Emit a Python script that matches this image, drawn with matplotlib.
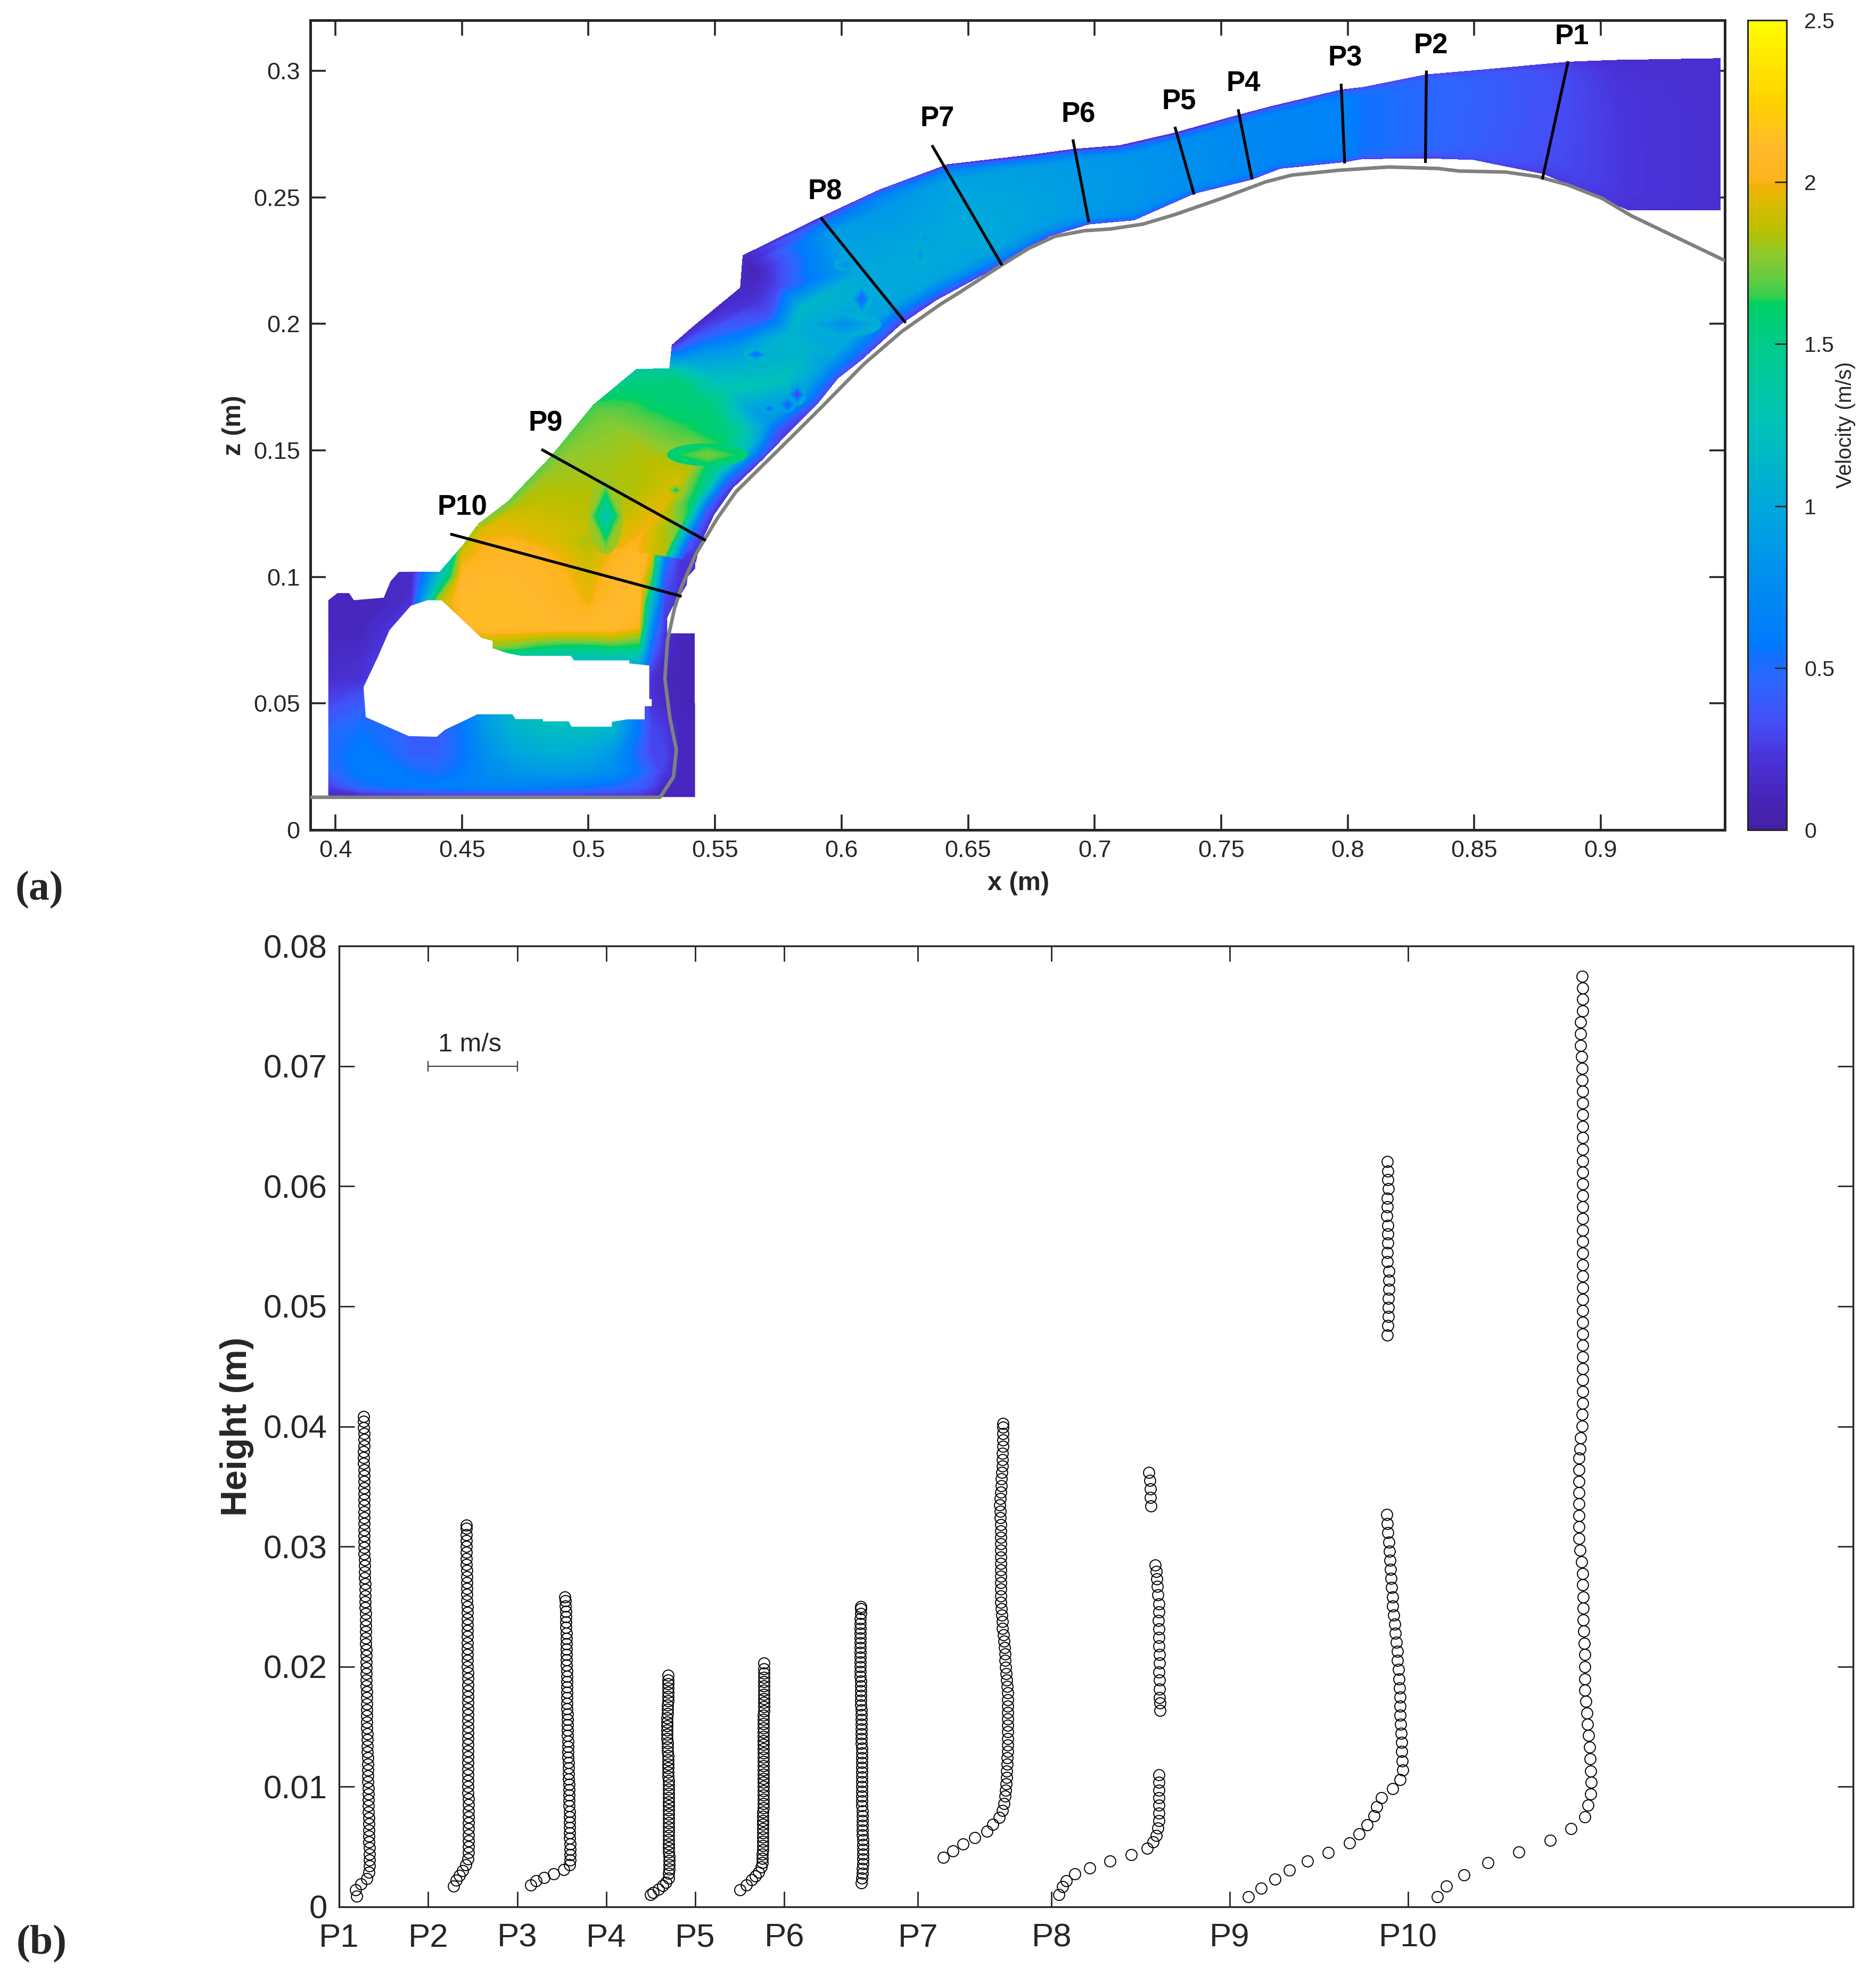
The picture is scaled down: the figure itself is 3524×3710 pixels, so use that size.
import numpy as np
import matplotlib
matplotlib.use("Agg")
import matplotlib.pyplot as plt
from matplotlib.colors import LinearSegmentedColormap, Normalize
from matplotlib.cm import ScalarMappable
from matplotlib.patches import Polygon, Ellipse
from matplotlib.tri import Triangulation

plt.rcParams["font.family"] = ["Liberation Sans", "DejaVu Sans"]

FIG_W, FIG_H = 3524, 3710
INK = "#262626"

# ---- panel (a) data ----
# velocity colour bar
cbar_values = [0, 0.12, 0.22, 0.34, 0.45, 0.55, 0.56, 0.75, 1.0, 1.25, 1.5, 1.63,
               1.64, 1.7, 1.78, 1.85, 1.93, 1.99, 2.01, 2.1, 2.25, 2.38, 2.5]
cbar_colors = ["#4320A4", "#4727BE", "#4A33DA", "#4450F8", "#2E64FF", "#0E72FF", "#0078FF",
               "#008CF0", "#00A8DC", "#00C2B8", "#00CB8A", "#00D062",
               "#2CCE50", "#62CC42", "#90C92C", "#B8C000", "#D8BC00", "#F0B208",
               "#FFB41C", "#FFB82C", "#FFD200", "#FFE800", "#FFFF00"]

# bed line
bed_x = [0.39, 0.5283, 0.5336, 0.5347, 0.5321, 0.5302, 0.5312, 0.534, 0.5368, 0.5424, 0.5508,
         0.5583, 0.5789, 0.592, 0.6088, 0.6238, 0.639, 0.6461, 0.6634, 0.6739, 0.6843, 0.6958,
         0.7062, 0.719, 0.7317, 0.7502, 0.7675, 0.7779, 0.7964, 0.8161, 0.8358, 0.8439, 0.8624,
         0.8751, 0.8867, 0.9005, 0.9121, 0.9503]
bed_z = [0.0129, 0.0129, 0.021, 0.0318, 0.0446, 0.0597, 0.0747, 0.0876, 0.0961, 0.109, 0.123,
         0.1337, 0.154, 0.167, 0.1841, 0.197, 0.2077, 0.2121, 0.2233, 0.2298, 0.2346, 0.2368,
         0.2375, 0.2394, 0.2432, 0.2496, 0.2561, 0.2588, 0.2607, 0.262, 0.2614, 0.2604, 0.26,
         0.2582, 0.255, 0.2496, 0.2427, 0.2244]

# jet cross sections, from the crest down to the toe
jet_bed_x = [0.9472, 0.9109, 0.8774, 0.8496, 0.8307, 0.8057, 0.7988, 0.7733, 0.7622, 0.7393, 0.7155,
             0.6977, 0.682, 0.6634, 0.6375, 0.6235, 0.6075, 0.5985, 0.5905, 0.5775, 0.5688, 0.557, 0.5495,
             0.5455, 0.5435, 0.5424]
jet_bed_z = [0.245, 0.245, 0.2593, 0.2649, 0.2655, 0.2652, 0.264, 0.2614, 0.2571, 0.2515, 0.241,
             0.2394, 0.2346, 0.2235, 0.2095, 0.2, 0.1855, 0.1785, 0.1685, 0.1555, 0.1465, 0.1352, 0.1245,
             0.116, 0.111, 0.106]
jet_top_x = [0.9472, 0.905, 0.887, 0.8554, 0.8311, 0.806, 0.7974, 0.77, 0.7567, 0.7317, 0.71,
             0.6914, 0.675, 0.642, 0.615, 0.5917, 0.561, 0.56, 0.5415, 0.533, 0.532, 0.5189, 0.502,
             0.4852, 0.4682, 0.456]
jet_top_z = [0.3049, 0.3042, 0.3035, 0.3006, 0.2985, 0.2935, 0.2925, 0.286, 0.2825, 0.2755, 0.2705,
             0.269, 0.2668, 0.263, 0.253, 0.2421, 0.227, 0.2142, 0.199, 0.1916, 0.1824, 0.182, 0.168,
             0.1476, 0.1298, 0.1205]
# share of the depth at which each speed below was read
jet_depth = [0, 0.06, 0.15, 0.3, 0.5, 0.7, 0.85, 0.94, 1]
jet_speed = [
    [0.18, 0.18, 0.18, 0.18, 0.18, 0.18, 0.18, 0.18, 0.18],
    [0.2, 0.22, 0.23, 0.23, 0.23, 0.23, 0.22, 0.2, 0.18],
    [0.25, 0.3, 0.33, 0.33, 0.33, 0.33, 0.32, 0.3, 0.25],
    [0.3, 0.38, 0.42, 0.42, 0.42, 0.42, 0.42, 0.4, 0.3],
    [0.25, 0.42, 0.47, 0.47, 0.47, 0.47, 0.47, 0.45, 0.3],
    [0.3, 0.5, 0.55, 0.55, 0.55, 0.55, 0.55, 0.5, 0.3],
    [0.28, 0.6, 0.66, 0.66, 0.66, 0.66, 0.66, 0.55, 0.25],
    [0.3, 0.6, 0.7, 0.7, 0.7, 0.7, 0.7, 0.5, 0.2],
    [0.3, 0.62, 0.72, 0.72, 0.72, 0.72, 0.72, 0.5, 0.2],
    [0.35, 0.66, 0.76, 0.78, 0.78, 0.78, 0.76, 0.5, 0.15],
    [0.35, 0.7, 0.82, 0.84, 0.84, 0.84, 0.82, 0.55, 0.15],
    [0.3, 0.72, 0.85, 0.88, 0.88, 0.88, 0.85, 0.6, 0.15],
    [0.3, 0.72, 0.9, 0.95, 0.95, 0.92, 0.9, 0.6, 0.15],
    [0.3, 0.7, 0.95, 1.02, 1.02, 0.98, 0.95, 0.7, 0.2],
    [0.25, 0.6, 0.98, 1.02, 0.98, 0.9, 0.85, 0.7, 0.3],
    [0.25, 0.5, 0.95, 1.02, 1.0, 0.95, 0.9, 0.6, 0.2],
    [0.3, 0.6, 1.0, 0.95, 1.15, 0.3, 0.12, 0.12, 0.15],
    [0.3, 0.6, 0.95, 1.1, 1.1, 0.35, 0.2, 0.15, 0.15],
    [0.3, 0.6, 1.0, 1.25, 1.1, 0.85, 0.5, 0.3, 0.15],
    [0.25, 0.35, 0.85, 0.95, 1.3, 1.15, 0.9, 0.5, 0.2],
    [0.25, 0.6, 1.2, 1.5, 1.55, 1.55, 1.55, 1.45, 1.3],
    [0.2, 0.5, 1.4, 1.75, 1.65, 1.58, 1.55, 1.5, 1.4],
    [0.2, 0.45, 1.55, 1.92, 1.85, 1.8, 1.75, 1.7, 1.65],
    [0.2, 0.45, 1.7, 1.97, 1.83, 1.82, 1.8, 1.78, 1.7],
    [0.2, 0.4, 1.8, 2.0, 1.85, 1.88, 1.88, 1.85, 1.7],
    [0.2, 0.25, 1.85, 2.05, 1.82, 1.95, 1.97, 1.96, 1.75],
]

# toe and pool, on a plain grid
pool_x = [0.3972, 0.41, 0.42, 0.43, 0.44, 0.45, 0.46, 0.47, 0.48, 0.49, 0.5, 0.51, 0.52, 0.525, 0.53, 0.536, 0.542]
pool_z = [0.013, 0.017, 0.023, 0.03, 0.04, 0.05, 0.06, 0.067, 0.072, 0.08, 0.09, 0.1, 0.108, 0.12]
pool_speed = [
    [0.12, 0.12, 0.15, 0.15, 0.2, 0.2, 0.2, 0.2, 0.2, 0.2, 0.2, 0.2, 0.2, 0.15, 0.12, 0.12, 0.12],
    [0.25, 0.5, 0.55, 0.6, 0.62, 0.65, 0.68, 0.68, 0.65, 0.6, 0.55, 0.5, 0.4, 0.3, 0.15, 0.12, 0.12],
    [0.45, 0.6, 0.62, 0.55, 0.5, 0.58, 0.75, 0.82, 0.88, 0.88, 0.85, 0.75, 0.55, 0.4, 0.25, 0.12, 0.12],
    [0.5, 0.6, 0.55, 0.42, 0.42, 0.55, 0.8, 0.95, 1.03, 1.05, 1.0, 0.85, 0.45, 0.3, 0.3, 0.12, 0.12],
    [0.45, 0.55, 0.5, 0.4, 0.4, 0.55, 0.9, 1.1, 1.18, 1.2, 1.2, 1.1, 0.55, 0.3, 0.25, 0.12, 0.12],
    [0.3, 0.4, 0.5, 0.5, 0.5, 0.6, 0.9, 1.15, 1.25, 1.25, 1.25, 1.15, 0.5, 0.2, 0.15, 0.1, 0.1],
    [0.18, 0.2, 0.3, 0.4, 0.5, 0.6, 1.0, 1.3, 1.4, 1.4, 1.4, 1.3, 0.6, 0.2, 0.12, 0.1, 0.1],
    [0.15, 0.18, 0.3, 0.4, 0.5, 0.9, 1.3, 1.25, 1.25, 1.2, 1.2, 1.2, 1.1, 0.35, 0.15, 0.1, 0.1],
    [0.15, 0.15, 0.25, 0.35, 0.5, 1.5, 1.75, 1.7, 1.6, 1.55, 1.55, 1.6, 1.55, 0.5, 0.18, 0.1, 0.1],
    [0.12, 0.12, 0.2, 0.3, 1.4, 2.1, 2.12, 2.12, 2.12, 2.1, 2.12, 2.12, 2.0, 0.7, 0.25, 0.1, 0.1],
    [0.12, 0.12, 0.12, 0.2, 1.8, 2.12, 2.12, 2.12, 2.1, 2.05, 1.98, 2.1, 2.12, 1.15, 0.3, 0.2, 0.15],
    [0.15, 0.12, 0.15, 0.15, 1.1, 2.08, 2.1, 2.1, 2.08, 2.02, 1.93, 2.08, 2.12, 1.7, 0.4, 0.22, 0.2],
    [0.15, 0.15, 0.15, 0.15, 0.7, 1.95, 2.05, 2.08, 2.05, 1.98, 1.88, 2.02, 2.12, 1.95, 0.7, 0.22, 0.2],
    [0.15, 0.15, 0.15, 0.15, 0.5, 1.6, 1.95, 1.95, 1.9, 1.85, 1.75, 1.95, 2.05, 2.0, 1.2, 0.3, 0.2],
]
pool_edge_x = [0.3972, 0.5421, 0.5421, 0.5311, 0.5311, 0.5331, 0.5353, 0.5388, 0.5392, 0.5421, 0.5424, 0.456,
               0.4503, 0.4412, 0.4251, 0.4218, 0.4191, 0.4073, 0.4054, 0.4008, 0.3972]
pool_edge_z = [0.013, 0.013, 0.0777, 0.0777, 0.0839, 0.0879, 0.0911, 0.0968, 0.1, 0.1032, 0.106, 0.1205,
               0.1125, 0.102, 0.102, 0.0983, 0.0918, 0.0908, 0.0936, 0.0936, 0.0908]

# air cavity under the nappe
cavity_x = [0.4364, 0.442, 0.4577, 0.4621, 0.4621, 0.4682, 0.4734, 0.493, 0.4943, 0.5161, 0.5161, 0.524, 0.524,
            0.525, 0.525, 0.5222, 0.5222, 0.5153, 0.5092, 0.5092, 0.4933, 0.4922, 0.482, 0.482, 0.4712, 0.4699,
            0.4561, 0.4503, 0.4433, 0.44, 0.4289, 0.412, 0.4111, 0.4167, 0.4214, 0.4298]
cavity_z = [0.0908, 0.0907, 0.0759, 0.0747, 0.0718, 0.0698, 0.0688, 0.0688, 0.067, 0.067, 0.0658, 0.065, 0.0517,
            0.0517, 0.0489, 0.0489, 0.0437, 0.0437, 0.0427, 0.0408, 0.0408, 0.0429, 0.0429, 0.0438, 0.0438, 0.0457,
            0.0457, 0.0429, 0.0396, 0.0368, 0.0371, 0.0446, 0.0564, 0.0682, 0.079, 0.0886]

# odd spots in the jet: centre, size, speed at the middle, speed around it
spot_x = [0.5068, 0.5346, 0.608, 0.5662, 0.5824, 0.5786, 0.5716, 0.6007, 0.6312, 0.6329, 0.6017, 0.547]
spot_z = [0.124, 0.1343, 0.2097, 0.1879, 0.1721, 0.1679, 0.1666, 0.1997, 0.2274, 0.234, 0.2234, 0.1483]
spot_w = [0.0135, 0.006, 0.008, 0.01, 0.007, 0.006, 0.006, 0.03, 0.006, 0.005, 0.01, 0.032]
spot_h = [0.03, 0.004, 0.012, 0.005, 0.009, 0.006, 0.004, 0.01, 0.008, 0.006, 0.005, 0.009]
spot_mid = [1.3, 1.5, 0.35, 0.4, 0.15, 0.3, 0.4, 0.75, 0.8, 0.85, 0.75, 1.74]
spot_rim = [1.8, 1.85, 1.05, 1.1, 1.0, 0.9, 1.0, 1.05, 1.05, 1.02, 1.0, 1.58]

# sections
section_names = ["P1", "P2", "P3", "P4", "P5", "P6", "P7", "P8", "P9", "P10"]
section_x0 = [0.8871, 0.8311, 0.7974, 0.7567, 0.7317, 0.6914, 0.6357, 0.5917, 0.4814, 0.4454]
section_z0 = [0.3038, 0.3001, 0.2949, 0.2848, 0.2779, 0.2729, 0.2706, 0.2421, 0.1504, 0.11695]
section_x1 = [0.8769, 0.8307, 0.7988, 0.7622, 0.7393, 0.6977, 0.6634, 0.6253, 0.5463, 0.5368]
section_z1 = [0.2571, 0.2636, 0.2634, 0.2571, 0.2511, 0.2402, 0.2232, 0.2004, 0.1144, 0.0923]
name_x = [0.8886, 0.8328, 0.799, 0.7587, 0.7333, 0.6935, 0.6378, 0.5935, 0.4831, 0.4502]
name_z = [0.3134, 0.31, 0.305, 0.295, 0.288, 0.2826, 0.2811, 0.2522, 0.1607, 0.1274]

# ---- panel (b) data ----
profile_ticks = [0, 1, 2, 3, 4, 5, 6.5, 8, 10, 12]

p1_h = [0.00088, 0.00142, 0.0019, 0.00237, 0.0029, 0.0034, 0.0039, 0.0044, 0.0049, 0.0054,
        0.0059, 0.0064, 0.0069, 0.0074, 0.0079, 0.0084, 0.0089, 0.0094, 0.0099, 0.0104,
        0.0109, 0.0114, 0.0119, 0.0124, 0.0129, 0.0134, 0.0139, 0.0144, 0.0149, 0.0154,
        0.0159, 0.0164, 0.0169, 0.0174, 0.0179, 0.0184, 0.0189, 0.0194, 0.0199, 0.0204,
        0.0209, 0.0214, 0.0219, 0.0224, 0.0229, 0.0234, 0.0239, 0.0244, 0.0249, 0.0254,
        0.0259, 0.0264, 0.0269, 0.0274, 0.0279, 0.0284, 0.0289, 0.0294, 0.0299, 0.0304,
        0.0309, 0.0314, 0.0319, 0.0324, 0.0329, 0.0334, 0.0339, 0.0344, 0.0349, 0.0354,
        0.0359, 0.0364, 0.0369, 0.0374, 0.0379, 0.0384, 0.0389, 0.0394, 0.0399, 0.0404,
        0.0408]
p1_u = [0.198, 0.183, 0.243, 0.312, 0.337, 0.34, 0.34, 0.338, 0.338, 0.336,
        0.335, 0.335, 0.333, 0.332, 0.33, 0.33, 0.328, 0.327, 0.326, 0.325,
        0.323, 0.322, 0.32, 0.32, 0.318, 0.316, 0.315, 0.314, 0.312, 0.312,
        0.31, 0.31, 0.31, 0.308, 0.308, 0.307, 0.307, 0.306, 0.305, 0.304,
        0.303, 0.302, 0.301, 0.3, 0.3, 0.298, 0.297, 0.297, 0.295, 0.294,
        0.292, 0.29, 0.29, 0.288, 0.286, 0.285, 0.284, 0.283, 0.282, 0.282,
        0.282, 0.281, 0.28, 0.28, 0.28, 0.279, 0.279, 0.278, 0.278, 0.278,
        0.278, 0.278, 0.277, 0.277, 0.277, 0.278, 0.278, 0.278, 0.277, 0.277,
        0.277]

p2_h = [0.00173, 0.0022, 0.0026, 0.003, 0.0035, 0.004, 0.0045, 0.005, 0.0055, 0.006,
        0.0065, 0.007, 0.0075, 0.008, 0.0085, 0.009, 0.0095, 0.01, 0.0105, 0.011,
        0.0115, 0.012, 0.0125, 0.013, 0.0135, 0.014, 0.0145, 0.015, 0.0155, 0.016,
        0.0165, 0.017, 0.0175, 0.018, 0.0185, 0.019, 0.0195, 0.02, 0.0205, 0.021,
        0.0215, 0.022, 0.0225, 0.023, 0.0235, 0.024, 0.0245, 0.025, 0.0255, 0.026,
        0.0265, 0.027, 0.0275, 0.028, 0.0285, 0.029, 0.0295, 0.03, 0.0305, 0.031,
        0.0315, 0.0318]
p2_u = [0.287, 0.317, 0.351, 0.386, 0.421, 0.446, 0.45, 0.45, 0.45, 0.45,
        0.45, 0.45, 0.45, 0.45, 0.45, 0.45, 0.448, 0.448, 0.448, 0.448,
        0.448, 0.447, 0.447, 0.447, 0.447, 0.446, 0.446, 0.446, 0.446, 0.446,
        0.445, 0.445, 0.445, 0.444, 0.444, 0.444, 0.444, 0.443, 0.443, 0.442,
        0.442, 0.442, 0.441, 0.441, 0.44, 0.44, 0.439, 0.438, 0.437, 0.436,
        0.435, 0.434, 0.433, 0.432, 0.431, 0.43, 0.43, 0.429, 0.428, 0.427,
        0.426, 0.426]

p3_h = [0.0018, 0.00215, 0.00243, 0.00274, 0.0031, 0.0035, 0.0039, 0.00435, 0.0048, 0.00525,
        0.0057, 0.00615, 0.0066, 0.00705, 0.0075, 0.00795, 0.0084, 0.00885, 0.0093, 0.00975,
        0.0102, 0.01065, 0.0111, 0.01155, 0.012, 0.01245, 0.0129, 0.01335, 0.0138, 0.01425,
        0.0147, 0.01515, 0.0156, 0.01605, 0.0165, 0.01695, 0.0174, 0.01785, 0.0183, 0.01875,
        0.0192, 0.01965, 0.0201, 0.02055, 0.021, 0.02145, 0.0219, 0.02235, 0.0228, 0.02325,
        0.0237, 0.02415, 0.0246, 0.02505, 0.0255, 0.0258]
p3_u = [0.153, 0.213, 0.302, 0.411, 0.525, 0.589, 0.594, 0.594, 0.593, 0.592,
        0.591, 0.59, 0.589, 0.588, 0.587, 0.586, 0.585, 0.584, 0.583, 0.582,
        0.58, 0.578, 0.577, 0.575, 0.574, 0.572, 0.571, 0.569, 0.568, 0.566,
        0.565, 0.564, 0.563, 0.562, 0.561, 0.56, 0.559, 0.558, 0.558, 0.557,
        0.556, 0.556, 0.555, 0.554, 0.554, 0.553, 0.552, 0.551, 0.55, 0.549,
        0.548, 0.547, 0.545, 0.543, 0.538, 0.535]

p4_h = [0.001, 0.0012, 0.00145, 0.00177, 0.00205, 0.0024, 0.0028, 0.00315, 0.0035, 0.00385,
        0.0042, 0.00455, 0.0049, 0.00525, 0.0056, 0.00595, 0.0063, 0.00665, 0.007, 0.00735,
        0.0077, 0.00805, 0.0084, 0.00875, 0.0091, 0.00945, 0.0098, 0.01015, 0.0105, 0.01085,
        0.0112, 0.01155, 0.0119, 0.01225, 0.0126, 0.01295, 0.0133, 0.01365, 0.014, 0.01435,
        0.0147, 0.01505, 0.0154, 0.01575, 0.0161, 0.01645, 0.0168, 0.01715, 0.0175, 0.01785,
        0.0182, 0.01855, 0.0189, 0.0193]
p4_u = [0.495, 0.525, 0.584, 0.634, 0.668, 0.698, 0.703, 0.705, 0.705, 0.704,
        0.704, 0.703, 0.703, 0.703, 0.702, 0.702, 0.702, 0.701, 0.701, 0.7,
        0.7, 0.7, 0.699, 0.699, 0.699, 0.699, 0.698, 0.698, 0.698, 0.697,
        0.697, 0.696, 0.695, 0.694, 0.692, 0.69, 0.688, 0.686, 0.685, 0.684,
        0.683, 0.683, 0.684, 0.685, 0.687, 0.689, 0.69, 0.692, 0.693, 0.693,
        0.694, 0.694, 0.693, 0.693]

p5_h = [0.00142, 0.00183, 0.00224, 0.00259, 0.0029, 0.00334, 0.0037, 0.00405, 0.0044, 0.00475,
        0.0051, 0.00545, 0.0058, 0.00615, 0.0065, 0.00685, 0.0072, 0.00755, 0.0079, 0.00825,
        0.0086, 0.00895, 0.0093, 0.00965, 0.01, 0.01035, 0.0107, 0.01105, 0.0114, 0.01175,
        0.0121, 0.01245, 0.0128, 0.01315, 0.0135, 0.01385, 0.0142, 0.01455, 0.0149, 0.01525,
        0.0156, 0.01595, 0.0163, 0.01665, 0.017, 0.01735, 0.0177, 0.01805, 0.0184, 0.01875,
        0.0191, 0.01945, 0.0198, 0.0203]
p5_u = [0.5, 0.574, 0.634, 0.673, 0.708, 0.743, 0.75, 0.752, 0.755, 0.757,
        0.757, 0.758, 0.758, 0.759, 0.76, 0.76, 0.76, 0.761, 0.761, 0.762,
        0.762, 0.762, 0.762, 0.762, 0.762, 0.762, 0.762, 0.762, 0.762, 0.763,
        0.763, 0.763, 0.764, 0.764, 0.765, 0.765, 0.765, 0.766, 0.766, 0.767,
        0.767, 0.767, 0.768, 0.769, 0.77, 0.77, 0.77, 0.771, 0.771, 0.772,
        0.772, 0.772, 0.772, 0.772]

p6_h = [0.002, 0.0024, 0.0028, 0.0032, 0.0036, 0.004, 0.0044, 0.0048, 0.0052, 0.0056,
        0.006, 0.0064, 0.0068, 0.0072, 0.0076, 0.008, 0.0084, 0.0088, 0.0092, 0.0096,
        0.01, 0.0104, 0.0108, 0.0112, 0.0116, 0.012, 0.0124, 0.0128, 0.0132, 0.0136,
        0.014, 0.0144, 0.0148, 0.0152, 0.0156, 0.016, 0.0164, 0.0168, 0.0172, 0.0176,
        0.018, 0.0184, 0.0188, 0.0192, 0.0196, 0.02, 0.0204, 0.0208, 0.0212, 0.0216,
        0.022, 0.0224, 0.0228, 0.0232, 0.0236, 0.024, 0.0244, 0.0248, 0.025]
p6_u = [0.861, 0.868, 0.874, 0.878, 0.88, 0.881, 0.881, 0.88, 0.88, 0.879,
        0.878, 0.877, 0.876, 0.875, 0.874, 0.873, 0.872, 0.871, 0.871, 0.87,
        0.87, 0.869, 0.869, 0.868, 0.868, 0.868, 0.867, 0.867, 0.867, 0.866,
        0.866, 0.866, 0.865, 0.864, 0.863, 0.862, 0.861, 0.86, 0.859, 0.858,
        0.857, 0.856, 0.855, 0.854, 0.853, 0.852, 0.851, 0.851, 0.851, 0.851,
        0.851, 0.852, 0.852, 0.853, 0.853, 0.854, 0.855, 0.856, 0.856]

p7_h = [0.0041, 0.00464, 0.00524, 0.00577, 0.0063, 0.00685, 0.00744, 0.00804, 0.0086, 0.0092,
        0.0097, 0.01024, 0.01078, 0.01132, 0.01186, 0.0124, 0.01294, 0.01348, 0.01402, 0.01456,
        0.0151, 0.01564, 0.01618, 0.01672, 0.01726, 0.0178, 0.01834, 0.01888, 0.01942, 0.01996,
        0.0205, 0.02104, 0.02158, 0.02212, 0.02266, 0.0232, 0.02374, 0.02428, 0.02482, 0.02536,
        0.0259, 0.02644, 0.02698, 0.02752, 0.02806, 0.0286, 0.02914, 0.02968, 0.03022, 0.03076,
        0.0313, 0.03184, 0.03238, 0.03292, 0.03346, 0.034, 0.03454, 0.03508, 0.03562, 0.03616,
        0.0367, 0.03724, 0.03778, 0.03832, 0.03886, 0.0394, 0.03994, 0.04025]
p7_u = [0.282, 0.391, 0.505, 0.639, 0.772, 0.842, 0.911, 0.946, 0.965, 0.975,
        0.985, 0.99, 0.995, 0.997, 1.0, 1.002, 1.005, 1.008, 1.01, 1.01,
        1.01, 1.01, 1.01, 1.01, 1.01, 1.005, 1.0, 0.995, 0.99, 0.985,
        0.98, 0.975, 0.97, 0.965, 0.958, 0.95, 0.945, 0.94, 0.936, 0.932,
        0.931, 0.931, 0.931, 0.931, 0.931, 0.931, 0.931, 0.931, 0.931, 0.931,
        0.93, 0.928, 0.926, 0.923, 0.92, 0.922, 0.928, 0.934, 0.938, 0.942,
        0.946, 0.948, 0.95, 0.952, 0.953, 0.954, 0.955, 0.955]

# P8 and P9 have holes in the record
p8_h = [0.00104, 0.00167, 0.00215, 0.00274, 0.00325, 0.00379, 0.00435, 0.00486, 0.0054, 0.00593,
        0.00656, 0.0072, 0.00782, 0.00845, 0.00908, 0.0097, 0.01035, 0.01098,
        0.01634, 0.01697, 0.01744, 0.01814, 0.01886, 0.01956, 0.02028, 0.02101, 0.0217, 0.02243,
        0.02312, 0.02385, 0.02454, 0.02524, 0.02596, 0.02666, 0.02732, 0.02792, 0.02845,
        0.03337, 0.0341, 0.0348, 0.03549, 0.03615]
p8_u = [0.079, 0.124, 0.168, 0.262, 0.426, 0.653, 0.896, 1.074, 1.139, 1.173,
        1.193, 1.203, 1.208, 1.208, 1.208, 1.208, 1.208, 1.208,
        1.218, 1.218, 1.213, 1.213, 1.213, 1.208, 1.213, 1.213, 1.208, 1.208,
        1.203, 1.198, 1.203, 1.203, 1.193, 1.188, 1.183, 1.173, 1.163,
        1.114, 1.109, 1.109, 1.104, 1.094]

p9_h = [0.00082, 0.00155, 0.0023, 0.00306, 0.00379, 0.00454, 0.0053, 0.00609, 0.00681, 0.00757,
        0.00833, 0.00909, 0.00984, 0.0106, 0.01139, 0.01215, 0.01293, 0.01369, 0.01445, 0.0152,
        0.01596, 0.01672, 0.01748, 0.01823, 0.01899, 0.01975, 0.0205, 0.02126, 0.02202, 0.02278,
        0.02353, 0.02429, 0.02505, 0.0258, 0.0266, 0.02735, 0.02811, 0.02886, 0.02962, 0.03038,
        0.03117, 0.03192, 0.03268,
        0.04762, 0.04838, 0.04914, 0.0499, 0.05067, 0.0514, 0.05217, 0.05293, 0.05372, 0.05448,
        0.05525, 0.05601, 0.05674, 0.05751, 0.05827, 0.059, 0.05977, 0.06053, 0.06126, 0.06203]
p9_u = [0.208, 0.351, 0.51, 0.668, 0.876, 1.109, 1.347, 1.455, 1.545, 1.619,
        1.649, 1.703, 1.827, 1.911, 1.941, 1.936, 1.931, 1.931, 1.926, 1.921,
        1.916, 1.916, 1.911, 1.906, 1.901, 1.896, 1.886, 1.881, 1.871, 1.861,
        1.851, 1.842, 1.832, 1.827, 1.817, 1.812, 1.807, 1.802, 1.792, 1.787,
        1.777, 1.772, 1.762,
        1.77, 1.776, 1.782, 1.782, 1.782, 1.788, 1.788, 1.788, 1.77, 1.77,
        1.773, 1.776, 1.773, 1.764, 1.767, 1.77, 1.782, 1.776, 1.773, 1.77]

p10_h = [0.00082, 0.00174, 0.00268, 0.00366, 0.00457, 0.00555, 0.00653, 0.00751, 0.00845, 0.0094,
         0.01035, 0.01129, 0.0123, 0.01331, 0.01426, 0.0152, 0.01615, 0.0171, 0.01804, 0.01899,
         0.01997, 0.02101, 0.02196, 0.02297, 0.02391, 0.02486, 0.0258, 0.02681, 0.02776, 0.02871,
         0.02968, 0.03066, 0.03164, 0.03259, 0.03353, 0.03448, 0.03543, 0.0364, 0.03738, 0.0381,
         0.03906, 0.04002, 0.04098, 0.04194, 0.0429, 0.04386, 0.04482, 0.04578, 0.04674, 0.0477,
         0.04866, 0.04962, 0.05059, 0.05155, 0.05251, 0.05347, 0.05443, 0.05539, 0.05635, 0.05731,
         0.05827, 0.05923, 0.06019, 0.06115, 0.06211, 0.06307, 0.06403, 0.06499, 0.06595, 0.06691,
         0.06788, 0.06884, 0.0698, 0.07076, 0.07172, 0.07268, 0.07364, 0.0746, 0.07556, 0.07652,
         0.07748]
p10_u = [0.332, 0.436, 0.629, 0.901, 1.248, 1.6, 1.832, 1.985, 2.025, 2.055,
         2.06, 2.055, 2.05, 2.04, 2.03, 2.02, 2.01, 2.0, 1.99, 1.99,
         1.985, 1.985, 1.98, 1.975, 1.97, 1.97, 1.97, 1.966, 1.966, 1.951,
         1.936, 1.921, 1.921, 1.921, 1.921, 1.921, 1.921, 1.921, 1.921, 1.936,
         1.942, 1.955, 1.96, 1.966, 1.966, 1.966, 1.966, 1.966, 1.966, 1.966,
         1.966, 1.966, 1.966, 1.966, 1.966, 1.966, 1.966, 1.966, 1.966, 1.966,
         1.966, 1.966, 1.966, 1.966, 1.966, 1.966, 1.966, 1.966, 1.966, 1.966,
         1.966, 1.96, 1.96, 1.954, 1.942, 1.942, 1.942, 1.966, 1.966, 1.966,
         1.96]

profile_h = [p1_h, p2_h, p3_h, p4_h, p5_h, p6_h, p7_h, p8_h, p9_h, p10_h]
profile_u = [p1_u, p2_u, p3_u, p4_u, p5_u, p6_u, p7_u, p8_u, p9_u, p10_u]


def px_axes(fig, left, top, right, bottom):
    return fig.add_axes([left / FIG_W, 1 - bottom / FIG_H, (right - left) / FIG_W, (bottom - top) / FIG_H])


def px_text(fig, x, y, s, **kw):
    return fig.text(x / FIG_W, 1 - y / FIG_H, s, ha="center", va="center", color=INK, **kw)


def style_box(ax, spine_w, tick_w, tick_len, size, pad):
    for side in ax.spines.values():
        side.set_linewidth(spine_w)
        side.set_color(INK)
    ax.tick_params(direction="in", top=True, right=True, length=tick_len, width=tick_w,
                   labelsize=size, pad=pad, color=INK, labelcolor=INK)


def draw_jet(ax, cmap, levels):
    # cross sections -> triangles, so the colour follows the speed and not the rgb
    depth = np.array(jet_depth)[None, :]
    xb, zb = np.array(jet_bed_x)[:, None], np.array(jet_bed_z)[:, None]
    xt, zt = np.array(jet_top_x)[:, None], np.array(jet_top_z)[:, None]
    gx = xb + (xt - xb) * depth
    gz = zb + (zt - zb) * depth
    n_st, n_d = gx.shape
    tris = []
    for i in range(n_st - 1):
        for j in range(n_d - 1):
            a = i * n_d + j
            b = a + 1
            c = a + n_d
            d = c + 1
            tris.append([a, b, d])
            tris.append([a, d, c])
    tri = Triangulation(gx.ravel(), gz.ravel(), tris)
    ax.tricontourf(tri, np.array(jet_speed).ravel(), levels=levels, cmap=cmap, extend="both", zorder=2)


def draw_spots(ax, cmap, levels):
    for x0, z0, w, h, mid, rim in zip(spot_x, spot_z, spot_w, spot_h, spot_mid, spot_rim):
        xs = [x0 - w / 2, x0, x0 + w / 2]
        zs = [z0 - h / 2, z0, z0 + h / 2]
        speed = [[rim, rim, rim], [rim, mid, rim], [rim, rim, rim]]
        spot = ax.contourf(xs, zs, speed, levels=levels, cmap=cmap, extend="both", zorder=3)
        spot.set_clip_path(Ellipse((x0, z0), w, h, transform=ax.transData))


def draw_flow_panel(fig, cmap):
    ax = px_axes(fig, 583, 38, 3240, 1559)
    levels = np.linspace(0, 2.5, 251)

    draw_jet(ax, cmap, levels)

    pool = ax.contourf(pool_x, pool_z, pool_speed, levels=levels, cmap=cmap, extend="both", zorder=2)
    pool.set_clip_path(Polygon(np.column_stack([pool_edge_x, pool_edge_z]), closed=True, transform=ax.transData))
    ax.add_patch(Polygon(np.column_stack([cavity_x, cavity_z]), closed=True, fc="white", ec="none", zorder=3))
    draw_spots(ax, cmap, levels)

    ax.plot(bed_x, bed_z, color="#808080", lw=4.8, zorder=4, solid_joinstyle="round")
    for i, name in enumerate(section_names):
        ax.plot([section_x0[i], section_x1[i]], [section_z0[i], section_z1[i]], color="black", lw=3.8,
                zorder=5, solid_capstyle="butt")
        ax.text(name_x[i], name_z[i], name, ha="center", va="center", fontsize=38, fontweight="bold",
                color="black", zorder=6)

    ax.set_xlim(0.3901, 0.949)
    ax.set_ylim(0, 0.32)
    ax.set_xticks([0.4, 0.45, 0.5, 0.55, 0.6, 0.65, 0.7, 0.75, 0.8, 0.85, 0.9])
    ax.set_xticklabels(["0.4", "0.45", "0.5", "0.55", "0.6", "0.65", "0.7", "0.75", "0.8", "0.85", "0.9"])
    ax.set_yticks([0, 0.05, 0.1, 0.15, 0.2, 0.25, 0.3])
    ax.set_yticklabels(["0", "0.05", "0.1", "0.15", "0.2", "0.25", "0.3"])
    style_box(ax, 3.6, 2.6, 21, 32.5, 14)
    px_text(fig, 1913, 1660, "x (m)", fontsize=35, fontweight="bold")
    px_text(fig, 440, 799, "z (m)", fontsize=35, fontweight="bold", rotation=90)

    cax = px_axes(fig, 3283, 38, 3356, 1559)
    cb = fig.colorbar(ScalarMappable(Normalize(0, 2.5), cmap), cax=cax)
    cb.set_ticks([0, 0.5, 1, 1.5, 2, 2.5])
    cb.set_ticklabels(["0", "0.5", "1", "1.5", "2", "2.5"])
    cax.tick_params(direction="in", length=16, width=2, labelsize=29.5, pad=24, color=INK, labelcolor=INK)
    cb.outline.set_linewidth(2.2)
    cb.outline.set_edgecolor(INK)
    px_text(fig, 3467, 798, "Velocity (m/s)", fontsize=28.5, rotation=90)


def draw_profile_panel(fig):
    ax = px_axes(fig, 637, 1777, 3481, 3582)
    for base, h, u in zip(profile_ticks, profile_h, profile_u):
        ax.plot(np.array(u) + base, h, "o", ms=15, mfc="none", mec="black", mew=1.4, clip_on=False)

    ax.plot([1, 2], [0.07, 0.07], color="#404040", lw=1.6, marker="|", ms=14.5, mew=1.6)
    ax.text(1.47, 0.0718, "1 m/s", ha="center", va="center", fontsize=35, color=INK)

    ax.set_xlim(0, 17)
    ax.set_ylim(0, 0.08)
    ax.set_xticks(profile_ticks)
    ax.set_xticklabels(section_names)
    ax.set_yticks([0, 0.01, 0.02, 0.03, 0.04, 0.05, 0.06, 0.07, 0.08])
    ax.set_yticklabels(["0", "0.01", "0.02", "0.03", "0.04", "0.05", "0.06", "0.07", "0.08"])
    style_box(ax, 2.4, 2.0, 21, 44.5, 16)
    ax.tick_params(axis="x", pad=22)
    px_text(fig, 445, 2680, "Height (m)", fontsize=49, fontweight="bold", rotation=90)


fig = plt.figure(figsize=(FIG_W / 100, FIG_H / 100), dpi=100, facecolor="white")
velocity_cmap = LinearSegmentedColormap.from_list(
    "velocity", [(v / 2.5, c) for v, c in zip(cbar_values, cbar_colors)], N=1024)

draw_flow_panel(fig, velocity_cmap)
draw_profile_panel(fig)

px_text(fig, 74, 1672, "(a)", fontsize=56, fontweight="bold", family=["Liberation Serif"])
px_text(fig, 78, 3652, "(b)", fontsize=56, fontweight="bold", family=["Liberation Serif"])

fig.savefig("out.png", dpi=100)
plt.close(fig)
